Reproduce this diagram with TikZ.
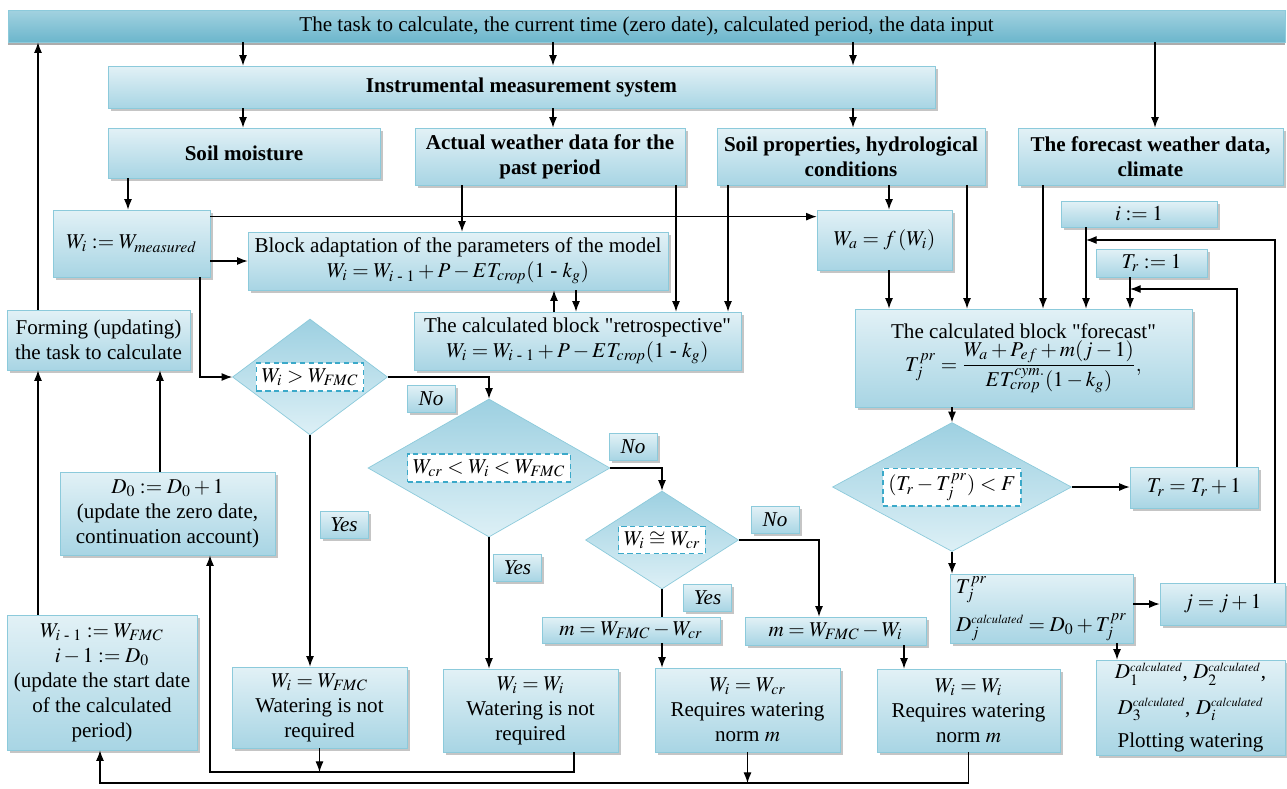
\documentclass[tikz,border=0pt]{standalone}
\usepackage{amsmath}
\usepackage{mathptmx}
\usepackage{fontspec}
\setmainfont{Liberation Serif}
\usetikzlibrary{arrows.meta,shapes.geometric,shadows}
\definecolor{boxline}{HTML}{8CCADB}
\definecolor{boxtop}{HTML}{E2F1F6}
\definecolor{boxbot}{HTML}{A8D5E4}
\definecolor{bartop}{HTML}{A2D2E0}
\definecolor{barmid}{HTML}{4FA6C2}
\definecolor{barbot}{HTML}{6CB6CC}
\definecolor{diatop}{HTML}{9DD0E1}
\definecolor{diabot}{HTML}{DDF0F6}
\definecolor{dashc}{HTML}{3BA9C9}
\newlength\px
\setlength\px{0.02cm}

\begin{document}
\begin{tikzpicture}[x=0.02cm,y=-0.02cm,
  every node/.style={font=\fontsize{12}{14.2}\selectfont},
  sz/.style 2 args={minimum width=#1\px,minimum height=#2\px},
  box/.style={draw=boxline,top color=boxtop,bottom color=boxbot,inner sep=1pt,align=center,
    drop shadow={shadow xshift=1.6pt,shadow yshift=-1.6pt,fill=black!45,draw=none}},
  bar/.style={draw=boxline,top color=bartop,middle color=barmid,bottom color=barbot,inner sep=1pt,
    drop shadow={shadow xshift=0pt,shadow yshift=-1.6pt,fill=black!65,draw=none}},
  hdr/.style={font=\bfseries\fontsize{12}{14.2}\selectfont},
  dia/.style={diamond,draw=boxline,top color=diatop,bottom color=diabot,inner sep=0pt},
  cond/.style={draw=dashc,dash pattern=on 3pt off 2pt,line width=0.8pt,fill=white,inner sep=3pt},
  lab/.style={box,sz={48}{27},font=\itshape\fontsize{12}{14.2}\selectfont},
  arr/.style={-{Latex[length=6pt,width=4.5pt]},line width=0.6pt},
  ln/.style={line width=0.6pt}]
\useasboundingbox (0,0) rectangle (1287,788);

% input and measurement
\node[bar,sz={1277}{32}] (task) at (646.5,26) {The task to calculate, the current time (zero date), calculated period, the data input};
\node[box,hdr,sz={827}{42}] (ims) at (521.5,87) {Instrumental measurement system};
\node[box,hdr,sz={272}{50}] (soil) at (244,153) {Soil moisture};
\node[box,hdr,sz={270}{57}] (wpast) at (550,156.5) {Actual weather data for the\\ past period};
\node[box,hdr,sz={268}{57}] (props) at (851,156.5) {Soil properties, hydrological\\ conditions};
\node[box,hdr,sz={265}{57}] (wfut) at (1150.5,156.5) {The forecast weather data,\\ climate};

% retrospective part
\node[box,sz={157}{67}] (wi) at (131.5,243.5) {$W_i := W_{\mathit{measured}}$};
\node[box,sz={420}{58}] (adapt) at (458,261) {Block adaptation of the parameters of the model\\ $W_i = W_{i\text{ - }1} + P - ET_{\mathit{crop}}(1\text{ - }k_g)$};
\node[box,sz={327}{58}] (retro) at (577.5,341) {The calculated block \textquotedbl retrospective\textquotedbl\\ $W_i = W_{i\text{ - }1} + P - ET_{\mathit{crop}}(1\text{ - }k_g)$};
\node[box,sz={183}{60}] (form) at (98.5,340) {Forming (updating)\\ the task to calculate};

% forecast part
\node[box,sz={135}{60}] (wa) at (884.5,240) {$W_a = f\,(W_i)$};
\node[box,sz={156}{26}] (ione) at (1139,214) {$i := 1$};
\node[box,sz={111}{28}] (trone) at (1151.5,263) {$T_r := 1$};
\node[box,sz={337}{98}] (fblock) at (1023.5,358) {The calculated block \textquotedbl forecast\textquotedbl\\ $\displaystyle T_j^{pr} = \frac{W_a + P_{ef} + m(j-1)}{ET_{crop}^{cym.}(1-k_g)},$};
\node[dia,sz={239}{129}] (d4) at (952,487) {};
\node[cond] (c4) at (d4) {$(T_r - T_j^{pr}) < F$};
\node[box,sz={128}{41}] (trinc) at (1194,487.5) {$T_r = T_r + 1$};
\node[box,sz={183}{69},align=left] (tj) at (1041.5,608.5) {$T_j^{pr}$\\[5pt] $D_j^{\scriptscriptstyle\mathit{calculated}} = D_0 + T_j^{pr}$};
\node[box,sz={125}{42}] (jinc) at (1222.5,604) {$j = j + 1$};
\node[box,sz={189}{95}] (plot) at (1190.5,707.5) {$D_1^{\scriptscriptstyle\mathit{calculated}}$, $D_2^{\scriptscriptstyle\mathit{calculated}}$,\\[6pt] $D_3^{\scriptscriptstyle\mathit{calculated}}$, $D_i^{\scriptscriptstyle\mathit{calculated}}$\\[5pt] Plotting watering};

% decisions
\node[dia,sz={155}{116}] (d1) at (310,377) {};
\node[cond] (c1) at (d1) {$W_i > W_{\mathit{FMC}}$};
\node[dia,sz={242}{138}] (d2) at (489,468) {};
\node[cond] (c2) at (d2) {$W_{cr} < W_i < W_{\mathit{FMC}}$};
\node[dia,sz={153}{98}] (d3) at (662,540) {};
\node[cond] (c3) at (d3) {$W_i \cong W_{cr}$};
\node[lab] (no1) at (431,398.5) {No};
\node[lab] (no2) at (633,446.5) {No};
\node[lab] (no3) at (775,520) {No};
\node[lab] (yes1) at (344,525) {Yes};
\node[lab] (yes2) at (517.5,567.5) {Yes};
\node[lab] (yes3) at (707.5,597.5) {Yes};

% results
\node[box,sz={215}{83}] (dzero) at (167.5,513.5) {$D_0 := D_0 + 1$\\ (update the zero date,\\ continuation account)};
\node[box,sz={190}{135}] (wprev) at (102,682.5) {$W_{i\text{ - }1} := W_{\mathit{FMC}}$\\ $i - 1 := D_0$\\ (update the start date\\ of the calculated\\ period)};
\node[box,sz={178}{26}] (mcr) at (631,630) {$m = W_{\mathit{FMC}} - W_{cr}$};
\node[box,sz={181}{28}] (mwi) at (835.5,631) {$m = W_{\mathit{FMC}} - W_i$};
\node[box,sz={175}{81}] (nw1) at (319.5,707.5) {$W_i = W_{\mathit{FMC}}$\\ Watering is not\\ required};
\node[box,sz={175}{83}] (nw2) at (530.5,710.5) {$W_i = W_i$\\ Watering is not\\ required};
\node[box,sz={185}{84}] (rw1) at (747.5,710) {$W_i = W_{cr}$\\ Requires watering\\ norm $m$};
\node[box,sz={183}{83}] (rw2) at (968.5,710.5) {$W_i = W_i$\\ Requires watering\\ norm $m$};

% columns for connectors
\foreach \n in {38,128,160,200,243,462,553,554,574,576,676,728,819,853,889,904,967,1043,1086,1117,1130,1155,1237,1275}
  \coordinate (x\n) at (\n,0);
\coordinate (wtap) at ([yshift=-7\px]wi.north east);
\coordinate (fbj) at (1086,240);
\coordinate (fbt) at (1130,289);
\coordinate (ba) at (210,772);
\coordinate (bb) at (100,783);

% connectors
\foreach \c in {243,553,853}
  \draw[arr] (task.south -| x\c) -- (ims.north -| x\c);
\draw[arr] (ims.south -| x243) -- (soil.north -| x243);
\draw[arr] (ims.south -| x553) -- (wpast.north -| x553);
\draw[arr] (ims.south -| x853) -- (props.north -| x853);
\draw[arr] (task.south -| x1155) -- (wfut.north -| x1155);
\draw[arr] (form.north -| x38) -- (task.south -| x38);
\draw[arr] (soil.south -| x128) -- (wi.north -| x128);
\draw[arr] (wtap) -- (wtap -| wa.west);
\draw[arr] (wi.east |- adapt.west) -- (adapt.west);
\draw[arr] (wi.south -| x200) |- (d1.west);
\draw[arr] (wpast.south -| x462) -- (adapt.north -| x462);
\draw[arr] (wpast.south -| x676) -- (retro.north -| x676);
\draw[arr] (props.south -| x728) -- (retro.north -| x728);
\draw[arr] (props.south -| x889) -- (wa.north -| x889);
\draw[arr] (props.south -| x967) -- (fblock.north -| x967);
\draw[arr] (retro.north -| x554) -- (adapt.south -| x554);
\draw[arr] (adapt.south -| x576) -- (retro.north -| x576);
\draw[arr] (wa.south -| x889) -- (fblock.north -| x889);
\draw[arr] (wfut.south -| x1043) -- (fblock.north -| x1043);
\draw[arr] (ione.south -| x1086) -- (fblock.north -| x1086);
\draw[arr] (trone.south -| x1130) -- (fblock.north -| x1130);
\draw[arr] (jinc.north -| x1275) |- (fbj);
\draw[arr] (trinc.north -| x1237) |- (fbt);
\draw[arr] (fblock.south -| d4.north) -- (d4.north);
\draw[arr] (d4.east) -- (trinc.west |- d4.east);
\draw[arr] (d4.south) -- (tj.north -| d4.south);
\draw[arr] (tj.east |- jinc.west) -- (jinc.west);
\draw[arr] (tj.south -| x1117) -- (plot.north -| x1117);
\draw[arr] (d1.east) -| (d2.north);
\draw[arr] (d2.east) -| (d3.north);
\draw[arr] (d3.east) -| (mwi.north -| x819);
\draw[arr] (d1.south) -- (nw1.north -| d1.south);
\draw[arr] (d2.south) -- (nw2.north -| d2.south);
\draw[ln] (d3.south) -- (mcr.north -| d3.south);
\draw[arr] (mcr.south -| d3.south) -- (rw1.north -| d3.south);
\draw[arr] (mwi.south -| x904) -- (rw2.north -| x904);
\draw[arr] (nw2.south -| x574) |- (ba) -- (dzero.south -| ba);
\draw[arr] (nw1.south) -- (nw1.south |- ba);
\draw[arr] (rw2.south) |- (bb) -- (wprev.south -| bb);
\draw[arr] (rw1.south) -- (rw1.south |- bb);
\draw[arr] (wprev.north -| x38) -- (form.south -| x38);
\draw[arr] (dzero.north -| x160) -- (form.south -| x160);
\end{tikzpicture}
\end{document}
